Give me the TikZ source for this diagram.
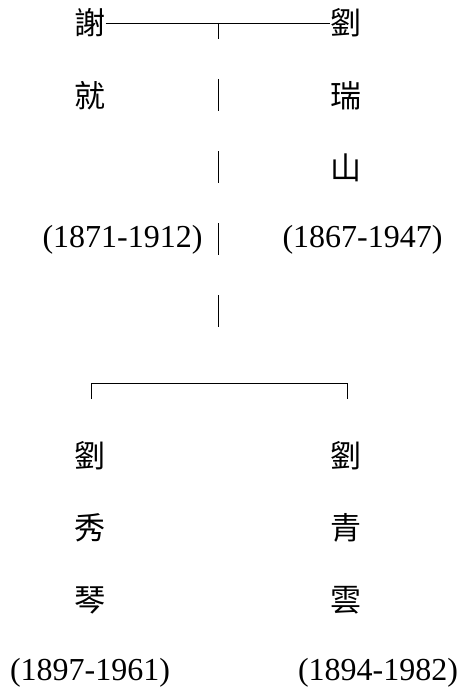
\documentclass[tikz,border=0pt]{standalone}
\usepackage{fontspec}
\setmainfont{Liberation Serif}
\newfontfamily\cjk{Noto Sans CJK TC}
\begin{document}
\begin{tikzpicture}[x=1pt,y=-1pt,
  han/.style={font=\cjk\fontsize{31}{31}\selectfont, inner sep=0pt, anchor=center},
  yrs/.style={font=\fontsize{32}{32}\selectfont, inner sep=0pt, anchor=center},
  rule/.style={line width=0.9pt, black}]
\useasboundingbox (0,0) rectangle (461,690);
% parents
\node[han] (xie) at (90,23) {謝};
\node[han] (jiu) at (90,96) {就};
\node[yrs] (xy) at (122.5,240) {(1871-1912)};
\node[han] (liu1) at (346,23) {劉};
\node[han] (rui) at (346,96) {瑞};
\node[han] (shan) at (346,168) {山};
\node[yrs] (ly) at (362.5,240) {(1867-1947)};
% children
\node[han] (liu2) at (90,456) {劉};
\node[han] (xiu) at (90,528) {秀};
\node[han] (qin) at (90,600) {琴};
\node[yrs] (qy) at (90,673) {(1897-1961)};
\node[han] (liu3) at (346,456) {劉};
\node[han] (qing) at (346,528) {青};
\node[han] (yun) at (346,600) {雲};
\node[yrs] (yy) at (378,673) {(1894-1982)};
% marriage line
\coordinate (m) at (218,23);
\draw[rule] (xie.east) -- (liu1.west);
\coordinate (m1) at (218,39);
\draw[rule] (m) -- (m1);
% descent bars
\foreach \a/\b in {79/111,151/183,223/255,295/327}{
  \draw[rule] (218,\a) -- (218,\b);
}
% sibling bracket
\coordinate (bl) at (91,383);
\coordinate (br) at (347,383);
\coordinate (bl2) at (91,399);
\coordinate (br2) at (347,399);
\draw[rule] (bl2) -- (bl) -- (br) -- (br2);
\end{tikzpicture}
\end{document}
